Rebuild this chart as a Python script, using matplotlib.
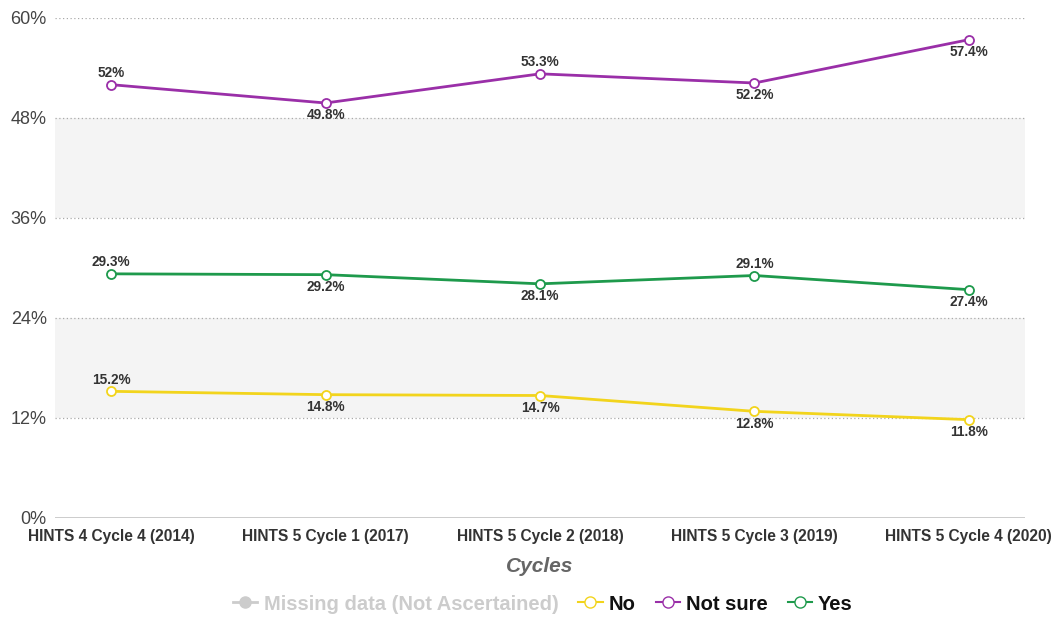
import matplotlib
matplotlib.use("Agg")
import matplotlib.pyplot as plt
from matplotlib.lines import Line2D

plt.rcParams['font.family'] = ['Liberation Sans', 'DejaVu Sans']

categories = ["HINTS 4 Cycle 4 (2014)", "HINTS 5 Cycle 1 (2017)", "HINTS 5 Cycle 2 (2018)",
              "HINTS 5 Cycle 3 (2019)", "HINTS 5 Cycle 4 (2020)"]
no_vals = [15.2, 14.8, 14.7, 12.8, 11.8]
notsure_vals = [52.0, 49.8, 53.3, 52.2, 57.4]
yes_vals = [29.3, 29.2, 28.1, 29.1, 27.4]
no_pos = ["above", "below", "below", "below", "below"]
notsure_pos = ["above", "below", "above", "below", "below"]
yes_pos = ["above", "below", "below", "above", "below"]
yticks = [0, 12, 24, 36, 48, 60]

c_no = "#f2d41c"
c_ns = "#9a2fa8"
c_yes = "#1e9a4c"

fig = plt.figure(figsize=(10.56, 6.18), dpi=100)
ax = fig.add_axes([55/1056, 100/618, 970/1056, 500/618])

x = list(range(len(categories)))
ax.set_xlim(-0.262, 4.262)
ax.set_ylim(0, 60)

# alternating bands
for lo, hi in [(12, 24), (36, 48)]:
    ax.axhspan(lo, hi, color="#f4f4f4", zorder=0, lw=0)
for t in yticks[1:]:
    ax.axhline(t, color="#aaaaaa", lw=0.9, ls=(0, (1, 2)), zorder=1)
ax.axhline(0, color="#c8c8c8", lw=2, zorder=1)

def fmt(v):
    s = f"{v:.1f}"
    if s.endswith(".0"):
        s = s[:-2]
    return s + "%"

for vals, pos, col in [(no_vals, no_pos, c_no), (notsure_vals, notsure_pos, c_ns), (yes_vals, yes_pos, c_yes)]:
    ax.plot(x, vals, color=col, lw=2, marker="o", ms=6.5, mfc="white", mec=col, mew=1.3, zorder=3)
    for xi, v, p in zip(x, vals, pos):
        off = 8.3 if p == "above" else -8.8
        ax.annotate(fmt(v), (xi, v), xytext=(0, off), textcoords="offset points",
                    ha="center", va="center", fontsize=9.8, fontweight="bold", color="#333333", zorder=4)

for s in ax.spines.values():
    s.set_visible(False)
ax.set_yticks(yticks)
ax.set_yticklabels([f"{t}%" for t in yticks], fontsize=13, color="#444444")
ax.tick_params(axis="y", length=0, pad=6)
ax.set_xticks(x)
ax.set_xticklabels(categories, fontsize=11.2, fontweight="bold", color="#333333")
ax.tick_params(axis="x", length=0, pad=8)

ax.set_xlabel("Cycles", fontsize=15, fontweight="bold", style="italic", color="#666666", labelpad=9)

handles = [
    Line2D([0], [0], color="#cccccc", lw=2, marker="o", ms=8, mfc="#cccccc", mec="#cccccc"),
    Line2D([0], [0], color=c_no, lw=1.5, marker="o", ms=8, mfc="white", mec=c_no),
    Line2D([0], [0], color=c_ns, lw=1.5, marker="o", ms=8, mfc="white", mec=c_ns),
    Line2D([0], [0], color=c_yes, lw=1.5, marker="o", ms=8, mfc="white", mec=c_yes),
]
labels = ["Missing data (Not Ascertained)", "No", "Not sure", "Yes"]
leg = fig.legend(handles, labels, loc="center", bbox_to_anchor=(543/1056, 1 - 604/618), ncol=4,
                 frameon=False, handlelength=1.2, handletextpad=0.3, columnspacing=1.0,
                 prop={"size": 14.5, "weight": "bold"})
for i, t in enumerate(leg.get_texts()):
    t.set_color("#cccccc" if i == 0 else "#111111")

fig.savefig("out.png", dpi=100)
